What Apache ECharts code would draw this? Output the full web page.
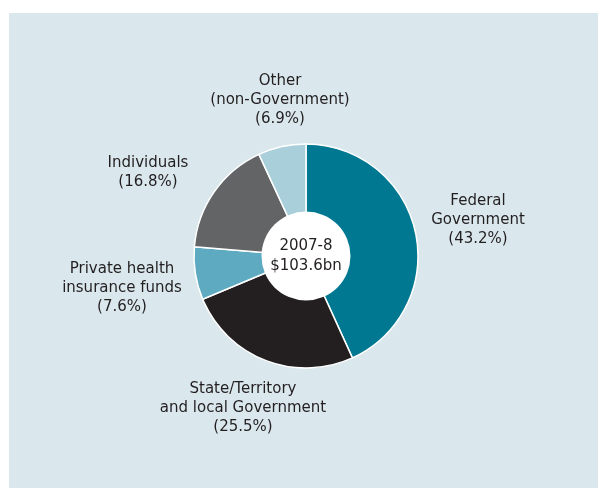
<!DOCTYPE html>
<html>
<head>
<meta charset="utf-8">
<script src="https://cdn.jsdelivr.net/npm/echarts@6/dist/echarts.min.js"></script>
<style>
  body { margin: 0; background: #fff; }
  #main { position: absolute; left: 9px; top: 13px; width: 589px; height: 475px; background: #dae8ee; }
</style>
</head>
<body>
<div id="main"></div>
<script>
// 数据
var names = ['Federal\nGovernment', 'State/Territory\nand local Government', 'Private health\ninsurance funds', 'Individuals', 'Other\n(non-Government)'];
var shares = [43.2, 25.5, 7.6, 16.8, 6.9];
var colors = ['#007891', '#231f20', '#5eabc1', '#636466', '#a9cfdb'];
var centreText = ['2007-8', '$103.6bn'];

// label block centres (chart coords)
var labelPos = [[469, 207], [234, 395], [113, 275], [139, 160], [271, 87]];

var myChart = echarts.init(document.getElementById('main'));

var pieData = names.map(function (n, i) {
  return { name: n, value: shares[i], itemStyle: { color: colors[i] } };
});

myChart.setOption({
  animation: false,
  textStyle: { fontFamily: 'DejaVu Sans' },
  series: [
    {
      type: 'pie',
      center: [297, 243],
      radius: [0, 112],
      startAngle: 90,
      clockwise: true,
      silent: true,
      itemStyle: { borderColor: '#fff', borderWidth: 1.5 },
      label: {
        show: true,
        formatter: function (p) { return p.name + '\n(' + p.value + '%)'; },
        color: '#231f20',
        fontSize: 15,
        lineHeight: 19,
        align: 'center',
        fontFamily: 'DejaVu Sans'
      },
      labelLine: { show: false },
      labelLayout: function (p) {
        var pos = labelPos[p.dataIndex];
        return { x: pos[0], y: pos[1], align: 'center', verticalAlign: 'middle' };
      },
      data: pieData
    },
    {
      type: 'pie',
      center: [297, 243],
      radius: [0, 44.5],
      silent: true,
      z: 3,
      itemStyle: { color: '#fff' },
      label: {
        show: true,
        position: 'center',
        formatter: centreText.join('\n'),
        color: '#231f20',
        fontSize: 15,
        lineHeight: 20,
        fontFamily: 'DejaVu Sans'
      },
      labelLine: { show: false },
      data: [{ value: 1, name: 'total' }]
    }
  ]
});
</script>
</body>
</html>
